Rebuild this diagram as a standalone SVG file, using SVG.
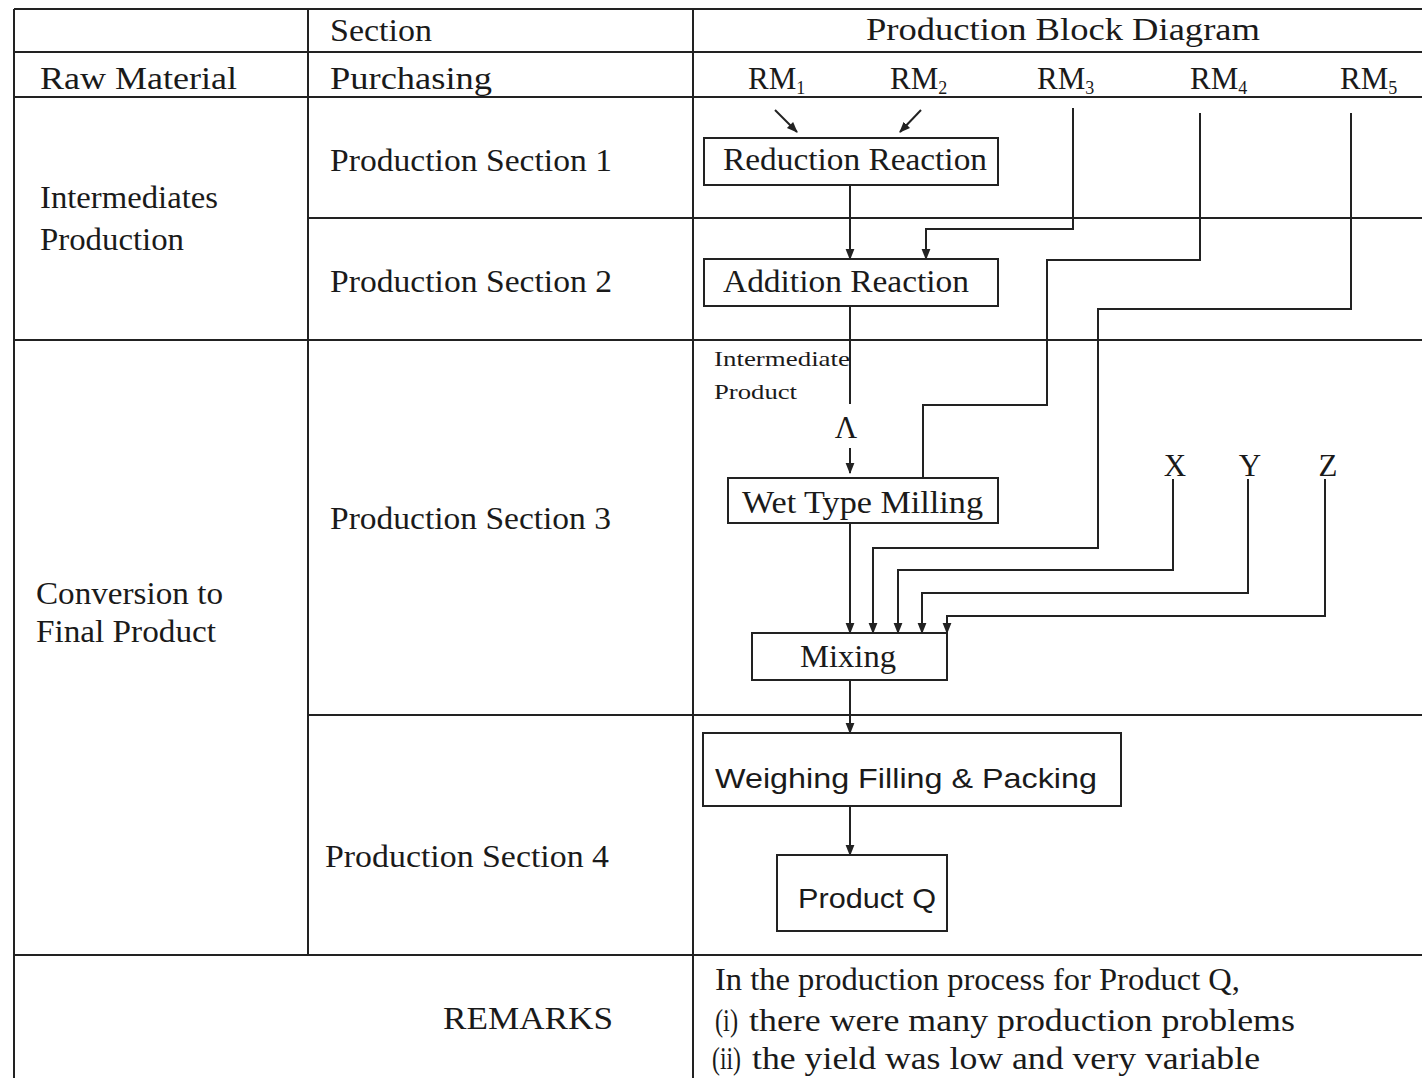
<svg xmlns="http://www.w3.org/2000/svg" width="1422" height="1078" viewBox="0 0 1422 1078">
<style>
.t{font-family:"Liberation Serif","Times New Roman",serif;fill:#1a1a1a;font-size:31px}
.s{font-family:"Liberation Sans",Arial,sans-serif;fill:#1a1a1a;font-size:28px}
.sm{font-size:22px}
.grid{stroke:#222;stroke-width:2;fill:none}
.box{stroke:#222;stroke-width:2;fill:#fff}
.ln{stroke:#222;stroke-width:2;fill:none}
.arr{stroke:#222;stroke-width:2;fill:none;marker-end:url(#ah)}
</style>
<defs>
<marker id="ah" viewBox="0 0 10 10" refX="9" refY="5" markerWidth="5.5" markerHeight="5.5" orient="auto" markerUnits="strokeWidth">
<path d="M0,1 L10,5 L0,9 z" fill="#222"/>
</marker>
</defs>
<rect width="1422" height="1078" fill="#fff"/>
<g id="table">
<line class="grid" x1="14" y1="9" x2="1422" y2="9"/>
<line class="grid" x1="14" y1="52" x2="1422" y2="52" stroke-width="3"/>
<line class="grid" x1="14" y1="97" x2="1422" y2="97"/>
<line class="grid" x1="308" y1="218" x2="1422" y2="218"/>
<line class="grid" x1="14" y1="340" x2="1422" y2="340"/>
<line class="grid" x1="308" y1="715" x2="1422" y2="715"/>
<line class="grid" x1="14" y1="955" x2="1422" y2="955"/>
<line class="grid" x1="14" y1="9" x2="14" y2="1078"/>
<line class="grid" x1="308" y1="9" x2="308" y2="955"/>
<line class="grid" x1="693" y1="9" x2="693" y2="1078"/>
</g>
<g id="headers">
<text class="t" x="330" y="41" textLength="102" lengthAdjust="spacingAndGlyphs">Section</text>
<text class="t" x="866" y="40" textLength="394" lengthAdjust="spacingAndGlyphs">Production Block Diagram</text>
<text class="t" x="40" y="89" textLength="197" lengthAdjust="spacingAndGlyphs">Raw Material</text>
<text class="t" x="330" y="89" textLength="162" lengthAdjust="spacingAndGlyphs">Purchasing</text>
<text class="t" x="748" y="89">RM<tspan font-size="18" dy="5">1</tspan></text>
<text class="t" x="890" y="89">RM<tspan font-size="18" dy="5">2</tspan></text>
<text class="t" x="1037" y="89">RM<tspan font-size="18" dy="5">3</tspan></text>
<text class="t" x="1190" y="89">RM<tspan font-size="18" dy="5">4</tspan></text>
<text class="t" x="1340" y="89">RM<tspan font-size="18" dy="5">5</tspan></text>
</g>
<g id="rowlabels">
<text class="t" x="40" y="208" textLength="178" lengthAdjust="spacingAndGlyphs">Intermediates</text>
<text class="t" x="40" y="250" textLength="144" lengthAdjust="spacingAndGlyphs">Production</text>
<text class="t" x="36" y="604" textLength="187" lengthAdjust="spacingAndGlyphs">Conversion to</text>
<text class="t" x="36" y="642" textLength="180" lengthAdjust="spacingAndGlyphs">Final Product</text>
<text class="t" x="330" y="171" textLength="282" lengthAdjust="spacingAndGlyphs">Production Section 1</text>
<text class="t" x="330" y="292" textLength="282" lengthAdjust="spacingAndGlyphs">Production Section 2</text>
<text class="t" x="330" y="529" textLength="281" lengthAdjust="spacingAndGlyphs">Production Section 3</text>
<text class="t" x="325" y="867" textLength="284" lengthAdjust="spacingAndGlyphs">Production Section 4</text>
<text class="t" x="443" y="1029" textLength="170" lengthAdjust="spacingAndGlyphs">REMARKS</text>
<text class="t" x="715" y="990" textLength="525" lengthAdjust="spacingAndGlyphs">In the production process for Product Q,</text>
<text class="t" x="715" y="1031" textLength="23" lengthAdjust="spacingAndGlyphs">(i)</text>
<text class="t" x="749" y="1031" textLength="546" lengthAdjust="spacingAndGlyphs">there were many production problems</text>
<text class="t" x="712" y="1069" textLength="29" lengthAdjust="spacingAndGlyphs">(ii)</text>
<text class="t" x="752" y="1069" textLength="508" lengthAdjust="spacingAndGlyphs">the yield was low and very variable</text>
</g>
<g id="connectors">
<line class="arr" x1="775" y1="110" x2="797" y2="132"/>
<line class="arr" x1="921" y1="110" x2="900" y2="132"/>
<line class="arr" x1="850" y1="185" x2="850" y2="259"/>
<polyline class="arr" points="1073,108 1073,229 926,229 926,259"/>
<polyline class="ln" points="1200,113 1200,260 1047,260 1047,405 923,405 923,478"/>
<polyline class="arr" points="1351,113 1351,309 1098,309 1098,548 873,548 873,633"/>
<line class="ln" x1="850" y1="306" x2="850" y2="404"/>
<line class="arr" x1="850" y1="448" x2="850" y2="473"/>
<line class="arr" x1="850" y1="523" x2="850" y2="633"/>
<polyline class="arr" points="1173,479 1173,570 898,570 898,633"/>
<polyline class="arr" points="1248,479 1248,593 922,593 922,633"/>
<polyline class="arr" points="1325,479 1325,616 947,616 947,633"/>
<line class="arr" x1="850" y1="680" x2="850" y2="733"/>
<line class="arr" x1="850" y1="806" x2="850" y2="855"/>
</g>
<g id="labels">
<text class="t sm" x="714" y="366" textLength="136" lengthAdjust="spacingAndGlyphs">Intermediate</text>
<text class="t sm" x="714" y="399" textLength="83" lengthAdjust="spacingAndGlyphs">Product</text>
<text class="t" x="846" y="438" font-size="25" text-anchor="middle">Λ</text>
<text class="t" x="1175" y="476" font-size="28" text-anchor="middle">X</text>
<text class="t" x="1250" y="476" font-size="28" text-anchor="middle">Y</text>
<text class="t" x="1328" y="476" font-size="28" text-anchor="middle">Z</text>
</g>
<g id="node-reduction">
<rect class="box" x="704" y="138" width="294" height="47"/>
<text class="t" x="723" y="170" textLength="264" lengthAdjust="spacingAndGlyphs">Reduction Reaction</text>
</g>
<g id="node-addition">
<rect class="box" x="704" y="259" width="294" height="47"/>
<text class="t" x="723" y="292" textLength="246" lengthAdjust="spacingAndGlyphs">Addition Reaction</text>
</g>
<g id="node-milling">
<rect class="box" x="728" y="478" width="270" height="45"/>
<text class="t" x="742" y="513" textLength="241" lengthAdjust="spacingAndGlyphs">Wet Type Milling</text>
</g>
<g id="node-mixing">
<rect class="box" x="752" y="633" width="195" height="47"/>
<text class="t" x="800" y="667" textLength="96" lengthAdjust="spacingAndGlyphs">Mixing</text>
</g>
<g id="node-weighing">
<rect class="box" x="703" y="733" width="418" height="73"/>
<text class="s" x="715" y="788" textLength="382" lengthAdjust="spacingAndGlyphs">Weighing Filling &amp; Packing</text>
</g>
<g id="node-productq">
<rect class="box" x="777" y="855" width="170" height="76"/>
<text class="s" x="798" y="908" textLength="138" lengthAdjust="spacingAndGlyphs">Product Q</text>
</g>
</svg>
